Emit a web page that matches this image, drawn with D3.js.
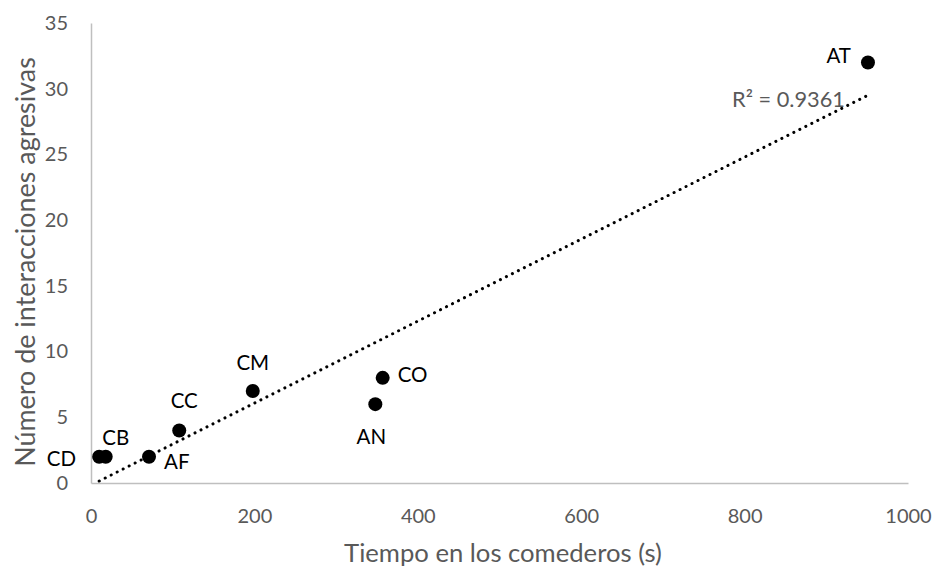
<!DOCTYPE html>
<html>
<head>
<meta charset="utf-8">
<script src="https://cdn.jsdelivr.net/npm/d3@7"></script>
<style>
  html, body { margin: 0; padding: 0; background: #fff; }
  svg { display: block; font-family: Lato, "Open Sans", sans-serif; }
</style>
</head>
<body>
<svg id="chart" width="937" height="568"></svg>
<script>
// Feeder time vs. aggressive interactions, one point per group
const groups = ["CD", "CB", "AF", "CC", "CM", "CO", "AN", "AT"];
const feederTime = [10, 18, 71, 108, 198, 357, 348, 951];
const aggressions = [2, 2, 2, 4, 7, 8, 6, 32];
const xTicks = [0, 200, 400, 600, 800, 1000];
const yTicks = [0, 5, 10, 15, 20, 25, 30, 35];
const r2Text = "R² = 0.9361";
const xTitle = "Tiempo en los comederos (s)";
const yTitle = "Número de interacciones agresivas";

const svg = d3.select("#chart");
const font = "Lato, 'Open Sans', sans-serif";
const grey = "#595959";
const axisGrey = "#bfbfbf";

const x = d3.scaleLinear().domain([0, 1000]).range([91, 908]);
const y = d3.scaleLinear().domain([0, 35]).range([483, 23]);

// axes
const xAxis = svg.append("g").attr("transform", `translate(0,${y(0)})`)
  .call(d3.axisBottom(x).tickValues(xTicks).tickFormat(d3.format("d"))
    .tickSize(0).tickPadding(26));
const yAxis = svg.append("g").attr("transform", `translate(${x(0)},0)`)
  .call(d3.axisLeft(y).tickValues(yTicks).tickSize(0).tickPadding(23));
[xAxis, yAxis].forEach(g => {
  g.select(".domain").attr("stroke", axisGrey).attr("stroke-width", 1.5);
  g.selectAll("text").attr("fill", grey).attr("font-size", 20)
    .attr("font-family", font);
});

// scale a title's font so that it spans the given length
function fitText(sel, target) {
  const len = sel.node().getComputedTextLength();
  const fs = parseFloat(sel.attr("font-size"));
  sel.attr("font-size", fs * target / len);
}

// axis titles
const xt = svg.append("text")
  .attr("x", 503).attr("y", 562)
  .attr("text-anchor", "middle").attr("fill", grey).attr("font-size", 22)
  .text(xTitle);
fitText(xt, 318);
const yt = svg.append("text")
  .attr("transform", "translate(35,262) rotate(-90)")
  .attr("text-anchor", "middle").attr("fill", grey).attr("font-size", 22)
  .text(yTitle);
fitText(yt, 410);

// least-squares trendline drawn across the data range
const pts = groups.map((g, i) => ({ g, x: feederTime[i], y: aggressions[i] }));
const mx = d3.mean(pts, d => d.x), my = d3.mean(pts, d => d.y);
const sxy = d3.sum(pts, d => (d.x - mx) * (d.y - my));
const sxx = d3.sum(pts, d => (d.x - mx) ** 2);
const slope = sxy / sxx, intercept = my - slope * mx;
const [x0, x1] = d3.extent(pts, d => d.x);
svg.append("line")
  .attr("x1", x(x0)).attr("y1", y(intercept + slope * x0))
  .attr("x2", x(x1)).attr("y2", y(intercept + slope * x1))
  .attr("stroke", "#000").attr("stroke-width", 3)
  .attr("stroke-linecap", "round").attr("stroke-dasharray", "0.1 6.6");

const r2 = svg.append("text")
  .attr("x", 732).attr("y", 107)
  .attr("fill", grey).attr("font-size", 21)
  .text(r2Text);
fitText(r2, 113);

// points
svg.append("g").selectAll("circle").data(pts).join("circle")
  .attr("cx", d => x(d.x)).attr("cy", d => y(d.y)).attr("r", 7)
  .attr("fill", "#000");

// point labels (offsets of the label centre line from the point)
const labelPlace = {
  CD: { dx: -23, dy: 2, anchor: "end" },
  CB: { dx: 10, dy: -19, anchor: "middle" },
  AF: { dx: 15, dy: 5, anchor: "start" },
  CC: { dx: 5, dy: -30, anchor: "middle" },
  CM: { dx: 0, dy: -28, anchor: "middle" },
  CO: { dx: 15, dy: -3, anchor: "start" },
  AN: { dx: -4, dy: 32, anchor: "middle" },
  AT: { dx: -17, dy: -7, anchor: "end" }
};
svg.append("g").selectAll("text").data(pts).join("text")
  .attr("x", d => x(d.x) + labelPlace[d.g].dx)
  .attr("y", d => y(d.y) + labelPlace[d.g].dy)
  .attr("dy", "0.36em")
  .attr("text-anchor", d => labelPlace[d.g].anchor)
  .attr("fill", "#000").attr("font-size", 20.5)
  .text(d => d.g);
</script>
</body>
</html>
